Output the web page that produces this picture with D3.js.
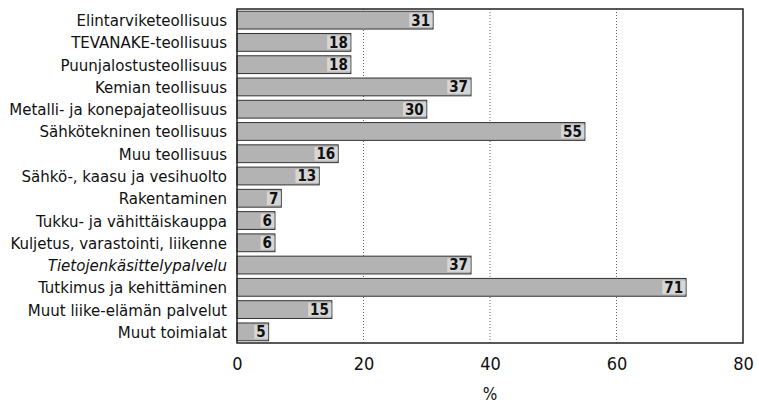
<!DOCTYPE html>
<html>
<head>
<meta charset="utf-8">
<script src="https://cdn.jsdelivr.net/npm/d3@7"></script>
<style>
  body { margin: 0; background: #fff; }
  text { font-family: "DejaVu Sans Condensed", "Roboto", sans-serif; fill: #111; }
</style>
</head>
<body>
<svg width="759" height="403"></svg>
<script>
const categories = [
  "Elintarviketeollisuus",
  "TEVANAKE-teollisuus",
  "Puunjalostusteollisuus",
  "Kemian teollisuus",
  "Metalli- ja konepajateollisuus",
  "Sähkötekninen teollisuus",
  "Muu teollisuus",
  "Sähkö-, kaasu ja vesihuolto",
  "Rakentaminen",
  "Tukku- ja vähittäiskauppa",
  "Kuljetus, varastointi, liikenne",
  "Tietojenkäsittelypalvelu",
  "Tutkimus ja kehittäminen",
  "Muut liike-elämän palvelut",
  "Muut toimialat"
];
const values = [31, 18, 18, 37, 30, 55, 16, 13, 7, 6, 6, 37, 71, 15, 5];
const xTicks = [0, 20, 40, 60, 80];
const italicCats = ["Tietojenkäsittelypalvelu"];

const svg = d3.select("svg");
const plotL = 237, plotR = 743, plotT = 9, plotB = 343;

const x = d3.scaleLinear().domain([0, 80]).range([plotL, plotR]);
const y = d3.scaleBand().domain(categories).range([plotT, plotB])
  .paddingInner(0.2).paddingOuter(0.1);

// grid
svg.append("g")
  .selectAll("line")
  .data(xTicks.slice(1, -1))
  .join("line")
  .attr("x1", d => x(d)).attr("x2", d => x(d))
  .attr("y1", plotT).attr("y2", plotB)
  .attr("stroke", "#666")
  .attr("stroke-width", 1)
  .attr("stroke-dasharray", "1,2");

// bars
svg.append("g")
  .selectAll("rect")
  .data(values)
  .join("rect")
  .attr("x", x(0))
  .attr("y", (d, i) => y(categories[i]))
  .attr("width", d => x(d) - x(0))
  .attr("height", y.bandwidth())
  .attr("fill", "#b3b3b3")
  .attr("stroke", "#333")
  .attr("stroke-width", 1);

// value labels with light box
const vl = svg.append("g")
  .selectAll("g")
  .data(values)
  .join("g");
const vt = vl.append("text")
  .attr("x", d => x(d) - 3)
  .attr("y", (d, i) => y(categories[i]) + y.bandwidth() / 2)
  .attr("dy", "0.36em")
  .attr("text-anchor", "end")
  .attr("font-size", 15)
  .attr("font-weight", "bold")
  .text(d => d);
vt.each(function (d, i) {
  const w = this.getComputedTextLength();
  d3.select(this.parentNode).insert("rect", "text")
    .attr("x", x(d) - w - 5)
    .attr("y", y(categories[i]) + 2)
    .attr("width", w + 4.5)
    .attr("height", y.bandwidth() - 4)
    .attr("fill", "#d6d6d6");
});

// frame
svg.append("rect")
  .attr("x", plotL).attr("y", plotT)
  .attr("width", plotR - plotL).attr("height", plotB - plotT)
  .attr("fill", "none")
  .attr("stroke", "#222")
  .attr("stroke-width", 1.5);

// category labels
svg.append("g")
  .selectAll("text")
  .data(categories)
  .join("text")
  .attr("x", plotL - 10)
  .attr("y", d => y(d) + y.bandwidth() / 2)
  .attr("dy", "0.36em")
  .attr("text-anchor", "end")
  .attr("font-size", 16.7)
  .attr("font-style", d => italicCats.includes(d) ? "italic" : "normal")
  .text(d => d);

// x axis
const xAxis = d3.axisBottom(x).tickValues(xTicks).tickSize(0).tickPadding(14);
const ax = svg.append("g")
  .attr("transform", `translate(0,${plotB})`)
  .call(xAxis);
ax.select(".domain").remove();
ax.selectAll("text")
  .attr("font-size", 18)
  .style("font-family", '"DejaVu Sans Condensed", "Roboto", sans-serif')
  .attr("fill", "#111");

svg.append("text")
  .attr("x", x(40))
  .attr("y", 400)
  .attr("text-anchor", "middle")
  .attr("font-size", 17)
  .text("%");
</script>
</body>
</html>
